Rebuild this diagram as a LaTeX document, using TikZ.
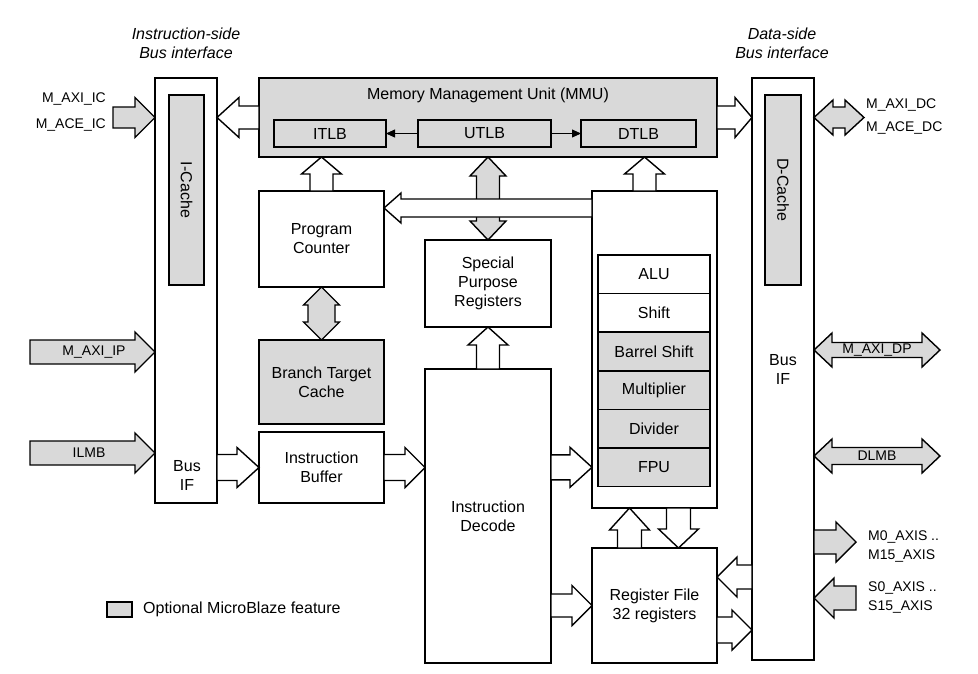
\documentclass[tikz,border=0pt]{standalone}
\usepackage{fontspec}
\setmainfont{Liberation Sans}
\usetikzlibrary{positioning,calc,arrows.meta}

\definecolor{optgray}{RGB}{217,217,217}
\newcommand{\lblfont}{\fontsize{16}{19}\selectfont}
\newcommand{\busfont}{\fontsize{14}{19}\selectfont}

\tikzset{
  bw/.store in=\bw, hw/.store in=\hw, hl/.store in=\hl,
  bw=12pt, hw=20pt, hl=20pt,
  blk/.style={draw, line width=1.5pt, inner sep=0pt, outer sep=0pt, align=center},
  opt/.style={blk, fill=optgray},
  txt/.style={inner sep=0pt, align=center},
  bus/.style={txt, font=\busfont},
  unit/.style={minimum width=112pt, minimum height=38.6pt},
  wf/.style={fill=white},
  gf/.style={fill=optgray},
  tlb/.style={line width=0.8pt, -{Triangle[length=9pt,width=8pt]}},
  % block arrows, the axis goes through the start point
  barh/.style={draw, line width=1.4pt, to path={let \p1=(\tikztostart), \p2=(\tikztotarget), \n1={sign(\x2-\x1)} in
    (\x1,{\y1+\bw}) -- ({\x2-(\n1)*\hl},{\y1+\bw}) -- ({\x2-(\n1)*\hl},{\y1+\hw}) -- (\x2,\y1)
    -- ({\x2-(\n1)*\hl},{\y1-\hw}) -- ({\x2-(\n1)*\hl},{\y1-\bw}) -- (\x1,{\y1-\bw}) -- cycle}},
  barv/.style={draw, line width=1.4pt, to path={let \p1=(\tikztostart), \p2=(\tikztotarget), \n1={sign(\y2-\y1)} in
    ({\x1+\bw},\y1) -- ({\x1+\bw},{\y2-(\n1)*\hl}) -- ({\x1+\hw},{\y2-(\n1)*\hl}) -- (\x1,\y2)
    -- ({\x1-\hw},{\y2-(\n1)*\hl}) -- ({\x1-\bw},{\y2-(\n1)*\hl}) -- ({\x1-\bw},\y1) -- cycle}},
  dbarh/.style={draw, line width=1.4pt, to path={let \p1=(\tikztostart), \p2=(\tikztotarget), \n1={sign(\x2-\x1)} in
    (\x1,\y1) -- ({\x1+(\n1)*\hl},{\y1+\hw}) -- ({\x1+(\n1)*\hl},{\y1+\bw}) -- ({\x2-(\n1)*\hl},{\y1+\bw})
    -- ({\x2-(\n1)*\hl},{\y1+\hw}) -- (\x2,\y1) -- ({\x2-(\n1)*\hl},{\y1-\hw}) -- ({\x2-(\n1)*\hl},{\y1-\bw})
    -- ({\x1+(\n1)*\hl},{\y1-\bw}) -- ({\x1+(\n1)*\hl},{\y1-\hw}) -- cycle}},
  dbarv/.style={draw, line width=1.4pt, to path={let \p1=(\tikztostart), \p2=(\tikztotarget), \n1={sign(\y2-\y1)} in
    (\x1,\y1) -- ({\x1+\hw},{\y1+(\n1)*\hl}) -- ({\x1+\bw},{\y1+(\n1)*\hl}) -- ({\x1+\bw},{\y2-(\n1)*\hl})
    -- ({\x1+\hw},{\y2-(\n1)*\hl}) -- (\x1,\y2) -- ({\x1-\hw},{\y2-(\n1)*\hl}) -- ({\x1-\bw},{\y2-(\n1)*\hl})
    -- ({\x1-\bw},{\y1+(\n1)*\hl}) -- ({\x1-\hw},{\y1+(\n1)*\hl}) -- cycle}}
}

\begin{document}
\begin{tikzpicture}[x=1pt, y=-1pt, font=\lblfont]
  \useasboundingbox (0,0) rectangle (978,673);

  % Bus interfaces
  \node[blk, anchor=north west, minimum width=62pt, minimum height=425pt] (ibus) at (155,78) {};
  \node[opt, anchor=north west, minimum width=35pt, minimum height=190pt] (icache) at (169,95) {\rotatebox{-90}{I-Cache}};
  \node[txt] (iif) at (187,475) {Bus\\IF};
  \node[txt, font=\lblfont\itshape] (ihead) at (186,43) {Instruction-side\\Bus interface};

  \node[blk, anchor=north west, minimum width=62pt, minimum height=582pt] (dbus) at (752,78) {};
  \node[opt, anchor=north west, minimum width=36pt, minimum height=190pt] (dcache) at (765,95) {\rotatebox{-90}{D-Cache}};
  \node[txt] (dif) at (783,369) {Bus\\IF};
  \node[txt, font=\lblfont\itshape] (dhead) at (782,43) {Data-side\\Bus interface};

  % MMU
  \node[opt, anchor=north west, minimum width=458pt, minimum height=79pt] (mmu) at (259,78) {};
  \node[txt] (mmut) at (488,95) {Memory Management Unit (MMU)};
  \node[opt, anchor=north west, minimum width=112pt, minimum height=27pt] (itlb) at (274,120) {ITLB};
  \node[opt, anchor=north west, minimum width=133pt, minimum height=27pt] (utlb) at (418,120) {UTLB};
  \node[opt, anchor=north west, minimum width=115pt, minimum height=27pt] (dtlb) at (581,120) {DTLB};
  \draw[tlb] (utlb) -- (itlb);
  \draw[tlb] (utlb) -- (dtlb);

  % Core blocks
  \node[blk, anchor=north west, minimum width=125pt, minimum height=96pt] (pc) at (259,191) {Program\\Counter};
  \node[opt, anchor=north west, minimum width=125pt, minimum height=84pt] (btc) at (259,340) {Branch Target\\Cache};
  \node[blk, anchor=north west, minimum width=125pt, minimum height=71pt] (ib) at (259,432) {Instruction\\Buffer};
  \node[blk, anchor=north west, minimum width=126pt, minimum height=87pt] (spr) at (425,240) {Special\\Purpose\\Registers};
  \node[blk, anchor=north west, minimum width=126pt, minimum height=294pt] (idec) at (425,369) {Instruction\\Decode};
  \node[blk, anchor=north west, minimum width=125pt, minimum height=317pt] (exu) at (592,191) {};
  \node[blk, unit, anchor=north west] (alu) at (598,255) {ALU};
  \node[blk, unit, below=0pt of alu] (shift) {Shift};
  \node[opt, unit, below=0pt of shift] (bsh) {Barrel Shift};
  \node[opt, unit, below=0pt of bsh] (mul) {Multiplier};
  \node[opt, unit, below=0pt of mul] (div) {Divider};
  \node[opt, unit, below=0pt of div] (fpu) {FPU};
  \node[blk, anchor=north west, minimum width=125pt, minimum height=115pt] (rf) at (592,548) {Register File\\32 registers};

  % Legend
  \node[opt, anchor=north west, minimum width=25pt, minimum height=15pt] (legbox) at (107,602) {};
  \node[txt, right=11pt of legbox] (legtxt) {Optional MicroBlaze feature};

  % External bus labels
  \node[bus, anchor=east] (laxiic) at (106,99) {M\_AXI\_IC};
  \node[bus, anchor=east] (laceic) at (106,125) {M\_ACE\_IC};
  \node[bus, anchor=west] (laxidc) at (866,105) {M\_AXI\_DC};
  \node[bus, anchor=west] (lacedc) at (866,128) {M\_ACE\_DC};
  \node[bus, anchor=west, align=left] (lmaxis) at (868,546.5) {M0\_AXIS ..\\M15\_AXIS};
  \node[bus, anchor=west, align=left] (lsaxis) at (868,597.5) {S0\_AXIS ..\\S15\_AXIS};

  \coordinate (icin) at (113,117.5);
  \coordinate (ipin) at (30,352);
  \coordinate (ilin) at (30,453);
  \coordinate (dcend) at (864,117.5);
  \coordinate (dpend) at (940,350);
  \coordinate (dlend) at (940,456);
  \coordinate (maxis) at (856,542);
  \coordinate (saxis) at (856,598);

  % External buses
  \draw[barh, gf, bw=10.5pt] (icin) to (ibus.west);
  \draw[barh, gf] (ipin) to (ibus.west);
  \draw[barh, gf] (ilin) to (ibus.west);
  \draw[dbarh, gf, bw=10.5pt, hw=17.5pt, hl=19pt] (dcend) to (dbus.east);
  \draw[dbarh, gf, bw=7.5pt, hw=17pt, hl=18pt] (dpend) to (dbus.east);
  \draw[dbarh, gf, bw=8.5pt, hw=17pt, hl=18pt] (dlend) to (dbus.east);
  \draw[barh, gf] (maxis -| dbus.east) to (maxis);
  \draw[barh, gf] (saxis) to (dbus.east);
  \node[bus] (laxiip) at (94,352) {M\_AXI\_IP};
  \node[bus] (lilmb) at (89,453) {ILMB};
  \node[bus] (laxidp) at (877,350) {M\_AXI\_DP};
  \node[bus] (ldlmb) at (877,456) {DLMB};

  % MMU paths
  \draw[barh, wf, bw=11.5pt, hl=22pt] (mmu.west) to (ibus.east);
  \draw[barh, wf, bw=11.5pt, hl=17pt] (mmu.east) to (dbus.west);
  \draw[barv, wf, bw=11.5pt, hl=17pt] (pc.north) to (mmu.south);
  \draw[barv, wf, bw=11.5pt, hl=17pt] ([xshift=-10pt]exu.north) to (mmu.south);
  \draw[dbarv, gf, bw=11.5pt, hw=18pt, hl=19pt] (spr.north) to (mmu.south);
  \draw[barh, wf, bw=9pt, hw=15pt, hl=17pt] ([yshift=-17pt]exu.north west) to (pc.east);

  % Program counter and branch target cache
  \draw[dbarv, gf, bw=13.5pt, hw=18pt, hl=18pt] (pc.south) to (btc.north);

  % Pipeline
  \draw[barh, wf, bw=13pt, hl=22pt] (ib.west -| ibus.east) to (ib.west);
  \draw[barh, wf, bw=13pt] (ib.east) to (idec.west);
  \draw[barv, wf, bw=11.5pt, hl=18pt] (idec.north) to (spr.south);
  \draw[barh, wf, bw=12.5pt, hl=22pt] (fpu.west -| idec.east) to (exu.west);
  \draw[barh, wf, bw=11.5pt] (rf.west -| idec.east) to (rf.west);
  \draw[barv, wf, hl=22pt] ([xshift=-25pt]rf.north) to (exu.south);
  \draw[barv, wf, hl=19pt] ([xshift=24pt]exu.south) to (rf.north);
  \draw[barh, wf] ($(dbus.west |- rf.north)+(0,29)$) to (rf.east);
  \draw[barh, wf, bw=13pt] ($(rf.north east)+(0,82)$) to (dbus.west);
\end{tikzpicture}
\end{document}
